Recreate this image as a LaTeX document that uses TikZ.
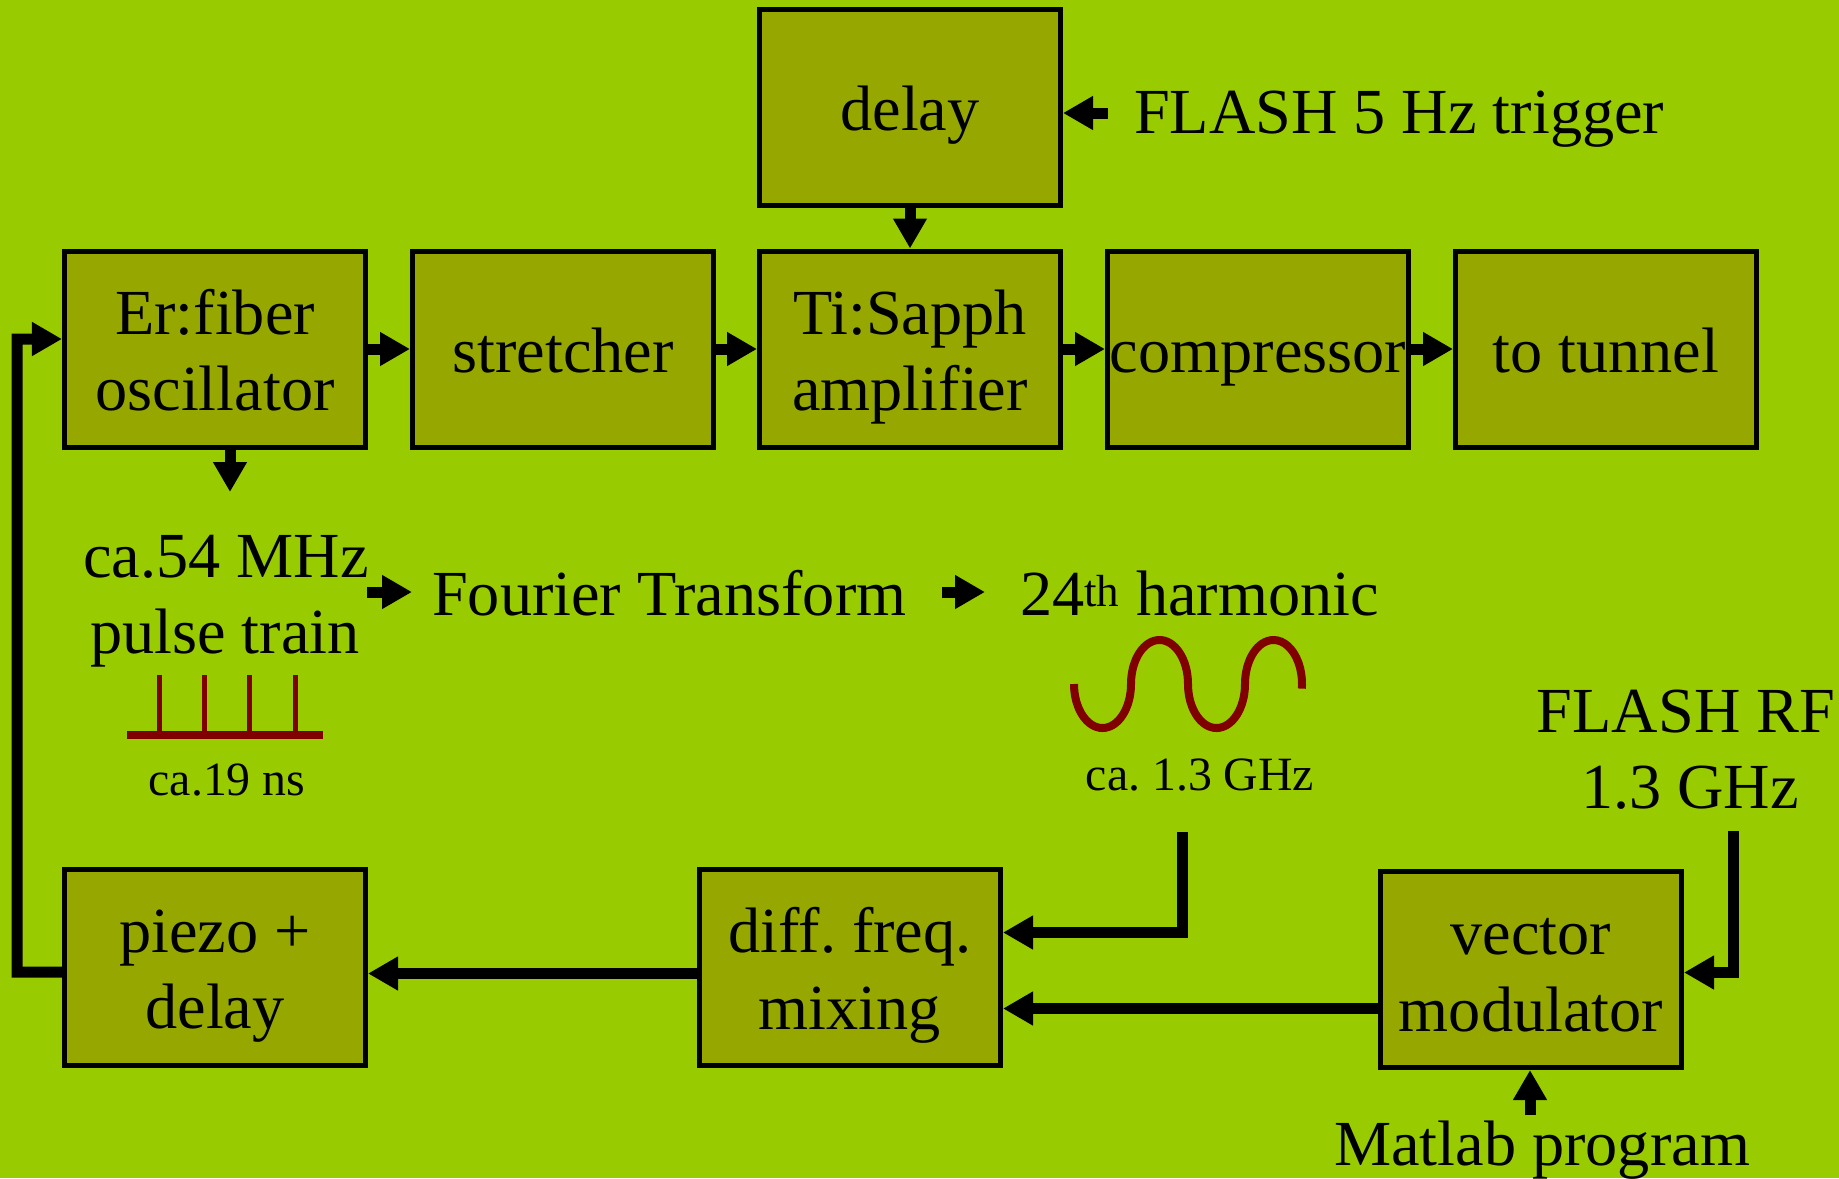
\documentclass[tikz,border=0pt]{standalone}
\usepackage{fontspec}
\setmainfont{Liberation Serif}
\usetikzlibrary{arrows.meta,calc}
\definecolor{bg}{RGB}{153,204,0}
\definecolor{boxfill}{RGB}{150,168,0}
\definecolor{wave}{RGB}{128,0,0}
\newcommand{\bline}[1]{\raisebox{0pt}[47bp][0pt]{#1}}
\frenchspacing
\begin{document}
\begin{tikzpicture}[x=1bp,y=-1bp,
  blk/.style={draw=black, line width=5bp, fill=boxfill, minimum width=301bp, minimum height=196bp, inner sep=0pt, align=center, font=\fontsize{64.5}{77}\selectfont\frenchspacing},
  lbl/.style={inner sep=0pt, font=\fontsize{64.5}{77}\selectfont\frenchspacing},
  slbl/.style={inner sep=0pt, font=\fontsize{48}{56}\selectfont\frenchspacing},
  arr/.style={line width=11bp, -{Triangle[length=30bp,width=32bp]}},
  wavy/.style={draw=wave, line width=8bp}]
\useasboundingbox[fill=bg] (0,0) rectangle (1839,1178);

% blocks
\node[blk] (delay) at (910,107) {\bline{delay}};
\node[blk] (er)  at (215,349) {\bline{Er:fiber}\\\bline{oscillator}};
\node[blk] (str) at (563,349) {\bline{stretcher}};
\node[blk] (tis) at (910,349) {\bline{Ti:Sapph}\\\bline{amplifier}};
\node[blk] (cmp) at (1258,349) {\bline{compressor}};
\node[blk] (tun) at (1606,349) {\bline{to tunnel}};
\node[blk] (piezo) at (215,967) {\bline{piezo +}\\\bline{delay}};
\node[blk] (diff) at (850,967.5) {\bline{diff. freq.}\\\bline{mixing}};
\node[blk] (vec) at (1531,969.5) {\bline{vector}\\\bline{modulator}};

% free texts
\node[lbl, anchor=base west] (trig) at (1134,133) {FLASH 5 Hz trigger};
\node[lbl, anchor=base] (ca54) at (226,577) {ca.54 MHz};
\node[lbl, anchor=base] (ptrain) at (225,653) {pulse train};
\node[lbl, anchor=base west] (four) at (432,615) {Fourier Transform};
\node[lbl, anchor=base west] (harm) at (1020,615) {24\textsuperscript{th} harmonic};
\node[slbl, anchor=base] (ns) at (227,795) {ca.19 ns};
\node[slbl, anchor=base] (ghz) at (1200,790) {ca. 1.3 GHz};
\node[lbl, anchor=base] (rf1) at (1686,732) {FLASH RF};
\node[lbl, anchor=base] (rf2) at (1690,808) {1.3 GHz};
\node[lbl, anchor=base west] (matlab) at (1334,1165) {Matlab program};

% coordinates for free connector ends
\coordinate (trigtail) at (1108,113);
\coordinate (erdown) at (230,492);
\coordinate (f1a) at (367,592);
\coordinate (f1b) at (412,592);
\coordinate (f2a) at (942,592);
\coordinate (f2b) at (985,592);
\coordinate (ghztail) at (1182,832);
\coordinate (rftail) at (1733,831);
\coordinate (mattail) at (1530,1115);
\coordinate (fbx) at (17,972);

% pulse train
\draw[wavy] (127,735) -- (323,735);
\foreach \px in {159,204,249,295} \draw[draw=wave, line width=5bp] (\px,675) -- (\px,731);
% wave made of half-ellipses
\draw[wavy] (1074,684)
  arc[start angle=180, end angle=360, x radius=28.5bp, y radius=44bp]
  arc[start angle=180, end angle=0, x radius=28.5bp, y radius=44bp]
  arc[start angle=180, end angle=360, x radius=28.5bp, y radius=44bp]
  arc[start angle=180, end angle=-6, x radius=28.5bp, y radius=44bp];

% connectors
\draw[arr] (trigtail) -- (trigtail -| delay.east);
\draw[arr] (delay.south) -- (tis.north);
\draw[arr] (er.east) -- (str.west);
\draw[arr] (str.east) -- (tis.west);
\draw[arr] (tis.east) -- (cmp.west);
\draw[arr] (cmp.east) -- (tun.west);
\draw[arr] (erdown |- er.south) -- (erdown);
\draw[arr] (f1a) -- (f1b);
\draw[arr] (f2a) -- (f2b);
\draw[arr] (ghztail) |- ([yshift=35bp]diff.east);
\draw[arr] ([yshift=-39bp]vec.west) -- ([yshift=-39bp]vec.west -| diff.east);
\draw[arr] ([yshift=-6bp]diff.west) -- ([yshift=-6bp]diff.west -| piezo.east);
\draw[arr] (rftail) |- ([yshift=-3bp]vec.east);
\draw[arr] (mattail) -- (mattail |- vec.south);
\draw[arr] ([yshift=-5bp]piezo.west) -- (fbx) |- ([yshift=10bp]er.west);
\end{tikzpicture}
\end{document}
